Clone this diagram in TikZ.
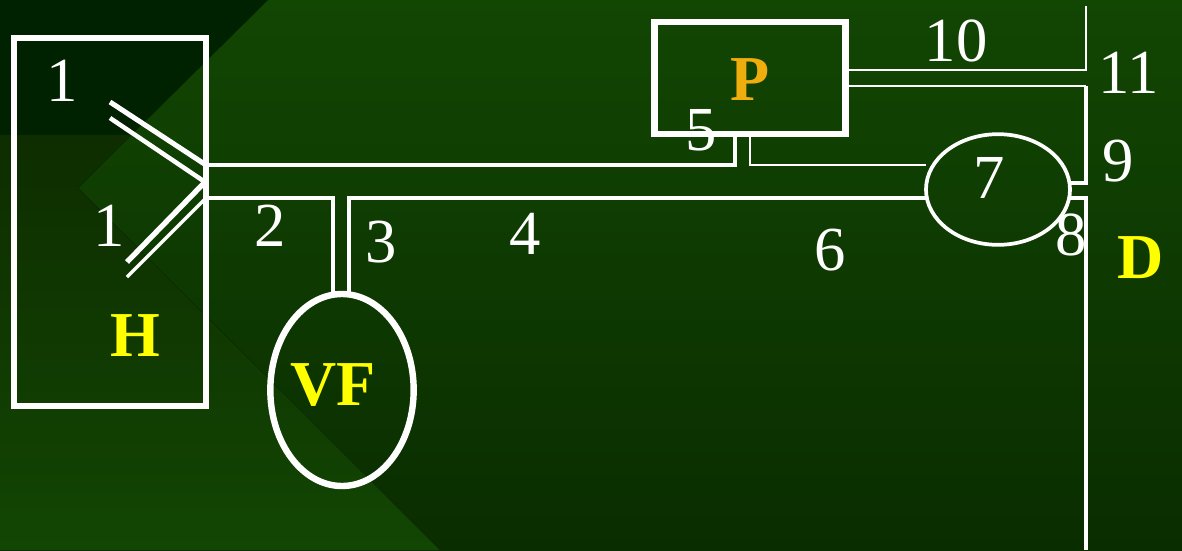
\documentclass[tikz,border=0pt]{standalone}
\usepackage{fontspec}
\setmainfont{Liberation Serif}
\usetikzlibrary{shapes.geometric}
\definecolor{fieldtop}{HTML}{124603}
\definecolor{fieldlow}{HTML}{0A2D00}
\definecolor{cornerdark}{HTML}{012200}
\definecolor{cornertop}{HTML}{0E2D00}
\definecolor{cornerlow}{HTML}{124603}
\definecolor{porange}{RGB}{240,174,14}
\definecolor{tagyellow}{RGB}{255,255,0}

\begin{document}
\begin{tikzpicture}[
  x=.75pt,y=-.75pt,
  organ/.style={draw=white,line width=5pt,inner sep=0pt,outer sep=0pt},
  valve/.style={draw=white,ellipse,inner sep=0pt,outer sep=0pt},
  wire/.style={draw=white,line width=2.8pt},
  thinwire/.style={draw=white,line width=1.6pt},
  num/.style={text=white,inner sep=0pt,font=\fontsize{47}{47}\selectfont},
  tag/.style={inner sep=0pt,font=\fontsize{48}{48}\selectfont\bfseries}
]
  \useasboundingbox (0,0) rectangle (1182,550);
  % background
  \fill[top color=fieldtop,bottom color=fieldlow] (0,0) rectangle (1182,550);
  \begin{scope}
    \clip (0,0) -- (268,0) -- (78,188) -- (440,550) -- (0,550) -- cycle;
    \fill[cornerdark] (0,0) rectangle (440,135);
    \fill[top color=cornertop,bottom color=cornerlow] (0,135) rectangle (440,550);
  \end{scope}

  \node[organ,minimum width=144pt,minimum height=276pt] (hbox) at (110,222) {};
  \node[organ,minimum width=143.5pt,minimum height=84pt] (pbox) at (750,78) {};
  \node[valve,line width=4.8pt,minimum width=107.5pt,minimum height=144pt] (vf) at (342,390) {};
  \node[valve,line width=2.8pt,minimum width=108pt,minimum height=83pt] (seven) at (998,189.5) {};

  \coordinate (hup) at (206,165);
  \coordinate (hmid) at (205,182);
  \coordinate (hlow) at (206,198);
  \coordinate (pleft) at (735,134);
  \coordinate (pright) at (750,134);
  \coordinate (vleft) at (333,295);
  \coordinate (vright) at (349,295);
  \coordinate (sevenup) at (926,165);
  \coordinate (sevenlow) at (926,198);
  \coordinate (sevenout) at (1070,183);
  \coordinate (sevenin) at (1070,198);
  \coordinate (ptop) at (846,70);
  \coordinate (pbot) at (846,86);
  \coordinate (top) at (1086,6);
  \coordinate (corner) at (1086,86);
  \coordinate (bend) at (1086,183);
  \coordinate (drain) at (1086,550);
  \coordinate (a1) at (110,102);
  \coordinate (a2) at (110,118);
  \coordinate (b1) at (127,262);
  \coordinate (b2) at (127,277);

  \draw[wire] (hup) -| (pleft);
  \draw[wire] (hlow) -| (vleft);
  \draw[wire] (vright) |- (sevenlow);
  \draw[thinwire] (pright) |- (sevenup);
  \draw[thinwire] (ptop) -| (top);
  \draw[thinwire] (pbot) -- (corner);
  \draw[wire] (corner) -- (bend) -- (sevenout);
  \draw[wire] (sevenin) -| (drain);

  \draw[draw=white,line width=3.8pt] (a1) -- (hup);
  \draw[draw=white,line width=3.4pt] (a2) -- (hmid);
  \draw[draw=white,line width=4pt] (b1) -- (hmid);
  \draw[draw=white,line width=2.4pt] (b2) -- (hlow);

  \node[num] (n1a) at (62,81) {1};
  \node[num] (n1b) at (109,226) {1};
  \node[num] (n2) at (270,226) {2};
  \node[num] (n3) at (381,242) {3};
  \node[num] (n4) at (525,234) {4};
  \node[num] (n5) at (701,130) {5};
  \node[num] (n6) at (830,250) {6};
  \node[num] (n7) at (989,178) {7};
  \node[num] (n8) at (1071,235) {8};
  \node[num] (n9) at (1118,161) {9};
  \node[num] (n10) at (956,41) {10};
  \node[num] (n11) at (1129,73) {11};

  \node[tag,text=tagyellow] (hlabel) at (135,336) {H};
  \node[tag,text=tagyellow] (vflabel) at (333,385) {VF};
  \node[tag,text=porange] (plabel) at (750,80) {P};
  \node[tag,text=tagyellow] (dlabel) at (1141,258) {D};
\end{tikzpicture}
\end{document}
